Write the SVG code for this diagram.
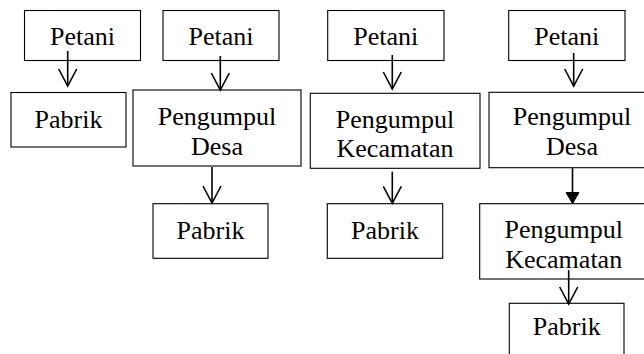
<svg xmlns="http://www.w3.org/2000/svg" width="644" height="354" viewBox="0 0 644 354">
<style>
.box{fill:#fff;stroke:#000;stroke-width:1.1}
.t{font-family:'Liberation Serif','Times New Roman','DejaVu Serif',serif;font-size:26px;fill:#000;text-anchor:middle}
.c{stroke:#000;stroke-width:1.6;fill:none}
</style>
<defs>
<marker id="open" markerUnits="userSpaceOnUse" markerWidth="24" markerHeight="24" viewBox="-20 -12 24 24" refX="0" refY="0" orient="auto" overflow="visible">
<path d="M-17,-9 L0,0 L-17,9" fill="none" stroke="#000" stroke-width="1.6"/>
</marker>
<marker id="solid" markerUnits="userSpaceOnUse" markerWidth="24" markerHeight="24" viewBox="-20 -12 24 24" refX="0" refY="0" orient="auto" overflow="visible">
<path d="M-11,-6.5 L0,0 L-11,6.5 Z" fill="#000" stroke="#000" stroke-width="1"/>
</marker>
</defs>
<rect width="644" height="354" fill="#fff"/>
<g id="petani1"><rect class="box" x="24.5" y="10.5" width="116" height="50"/><text class="t" x="82.5" y="45">Petani</text></g>
<g id="pabrik1"><rect class="box" x="11" y="92.5" width="115" height="54.5"/><text class="t" x="68.5" y="128">Pabrik</text></g>
<g id="petani2"><rect class="box" x="163" y="10.5" width="116" height="50"/><text class="t" x="221" y="45">Petani</text></g>
<g id="desa1"><rect class="box" x="133" y="90" width="168" height="76"/><text class="t" x="217" y="125">Pengumpul</text><text class="t" x="217" y="155">Desa</text></g>
<g id="pabrik2"><rect class="box" x="153" y="203.7" width="115" height="54.6"/><text class="t" x="210.5" y="239">Pabrik</text></g>
<g id="petani3"><rect class="box" x="327.7" y="10.5" width="116.3" height="50"/><text class="t" x="385.8" y="45">Petani</text></g>
<g id="kecamatan1"><rect class="box" x="310.3" y="93.3" width="169.7" height="75"/><text class="t" x="395" y="128.3">Pengumpul</text><text class="t" x="395" y="156.7">Kecamatan</text></g>
<g id="pabrik3"><rect class="box" x="327.3" y="203.7" width="115.4" height="54.6"/><text class="t" x="385" y="239">Pabrik</text></g>
<g id="petani4"><rect class="box" x="508.7" y="10.5" width="116.3" height="50"/><text class="t" x="566.8" y="45">Petani</text></g>
<g id="desa2"><rect class="box" x="489" y="92.3" width="166" height="75.4"/><text class="t" x="572" y="125">Pengumpul</text><text class="t" x="572" y="155">Desa</text></g>
<g id="kecamatan2"><rect class="box" x="479.7" y="203.7" width="168" height="75.3"/><text class="t" x="563.7" y="238.3">Pengumpul</text><text class="t" x="563.7" y="268.3">Kecamatan</text></g>
<g id="pabrik4"><rect class="box" x="509.3" y="303.3" width="114.7" height="60"/><text class="t" x="566.7" y="335">Pabrik</text></g>
<g id="connectors">
<line class="c" x1="67.7" y1="51" x2="67.7" y2="86" marker-end="url(#open)"/>
<line class="c" x1="220.3" y1="56" x2="220.3" y2="90" marker-end="url(#open)"/>
<line class="c" x1="392.3" y1="55" x2="392.3" y2="89" marker-end="url(#open)"/>
<line class="c" x1="573.7" y1="53" x2="573.7" y2="86" marker-end="url(#open)"/>
<line class="c" x1="212" y1="167" x2="212" y2="203" marker-end="url(#open)"/>
<line class="c" x1="392.3" y1="171.7" x2="392.3" y2="203.3" marker-end="url(#open)"/>
<line class="c" x1="572.5" y1="168" x2="572.5" y2="203.5" marker-end="url(#solid)"/>
<line class="c" x1="568.7" y1="270" x2="568.7" y2="304" marker-end="url(#open)"/>
</g>
</svg>
